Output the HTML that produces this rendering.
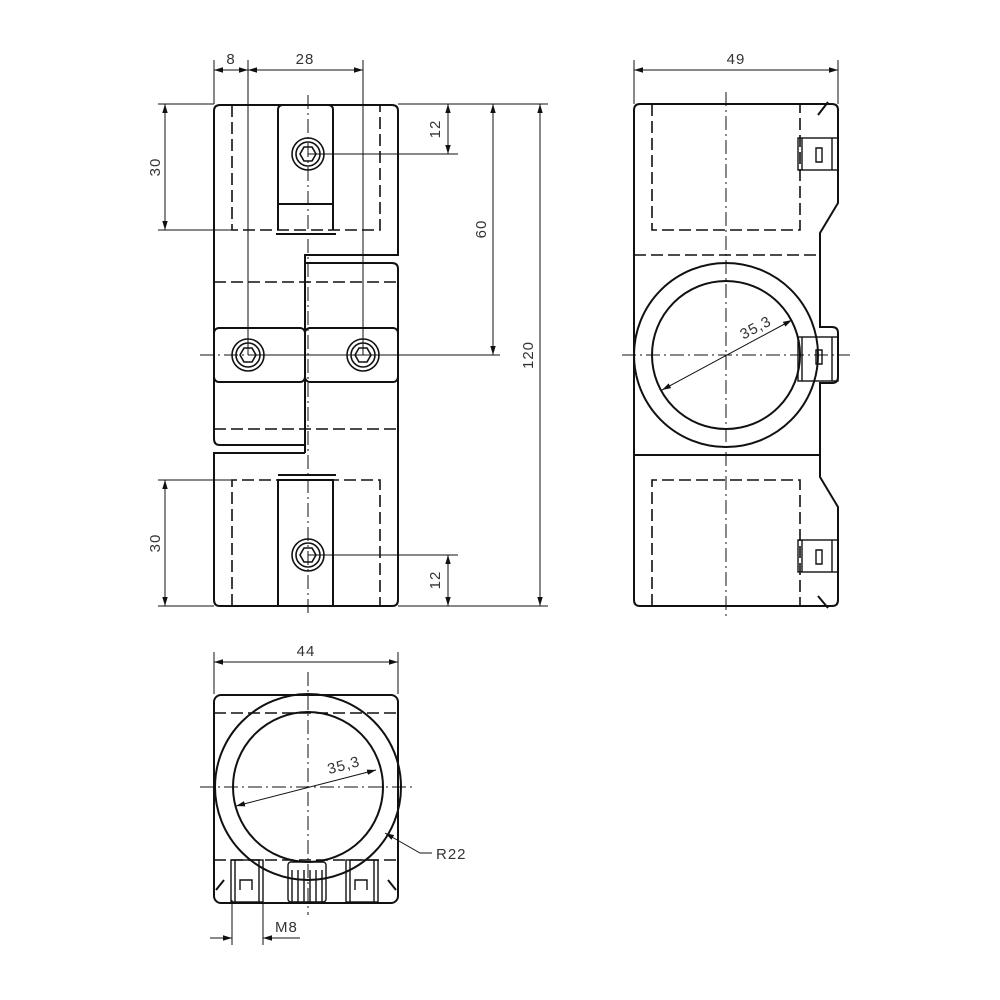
<!DOCTYPE html>
<html><head><meta charset="utf-8"><style>
html,body{margin:0;padding:0;background:#fff}
svg{display:block}
text{font-family:"Liberation Sans",sans-serif;font-size:15px;fill:#333;letter-spacing:1px}
</style></head><body>
<svg width="1000" height="1000" viewBox="0 0 1000 1000" xmlns="http://www.w3.org/2000/svg">
<defs>
<marker id="a" viewBox="0 0 10 10" refX="10" refY="5" markerWidth="9" markerHeight="9" orient="auto-start-reverse" markerUnits="userSpaceOnUse"><path d="M0,2 L10,5 L0,8 z" fill="#111"/></marker>
</defs>
<g fill="none" stroke="#111">
<!-- LEFT VIEW outline -->
<g stroke-width="2">
<path d="M305,445 H220 Q214,445 214,439 V111 Q214,105 220,105 H392 Q398,105 398,111 V255 H305 V453"/>
<path d="M305,263 H392 Q398,263 398,269 V600 Q398,606 392,606 H220 Q214,606 214,600 V453 H305"/>
<path d="M278,230 V110 Q278,105 283,105 H328 Q333,105 333,110 V230 M278,204 H333"/>
<path d="M276,234 H336" />
<path d="M278,606 V480 H333 V606 M278,475 H336" />
<rect x="214" y="328" width="91" height="54" rx="5"/>
<rect x="305" y="328" width="93" height="54" rx="5"/>
</g>
<g stroke-width="1.6" stroke-dasharray="12,5">
<path d="M232,105 V230 H380 V105"/>
<path d="M232,606 V480 H380 V606"/>
<path d="M214,282 H398 M214,429 H398"/>
</g>
<!-- bolts -->
<g stroke-width="1.6">
<circle cx="308" cy="154" r="16"/><circle cx="308" cy="154" r="12"/><path d="M300,154 l4,-7 h8 l4,7 l-4,7 h-8 z"/>
<circle cx="248" cy="355" r="16"/><circle cx="248" cy="355" r="12"/><path d="M240,355 l4,-7 h8 l4,7 l-4,7 h-8 z"/>
<circle cx="363" cy="355" r="16"/><circle cx="363" cy="355" r="12"/><path d="M355,355 l4,-7 h8 l4,7 l-4,7 h-8 z"/>
<circle cx="308" cy="555" r="16"/><circle cx="308" cy="555" r="12"/><path d="M300,555 l4,-7 h8 l4,7 l-4,7 h-8 z"/>
</g>
<!-- center lines -->
<g stroke-width="1" stroke-dasharray="14,4,2,4">
<path d="M308,95 V615 M200,355 H500"/>
<path d="M726,92 V620 M622,355 H850"/>
<path d="M308,672 V915 M200,787 H415"/>
</g>
<!-- left view dims -->
<g stroke-width="1">
<path d="M214,60 V104 M248,60 V355 M363,60 V355"/>
<path d="M158,104 H214 M398,104 H548 M158,230 H232 M308,154 H458 M248,355 H500"/>
<path d="M158,480 H232 M158,606 H214 M398,606 H548 M308,555 H458"/>
<path d="M214,70 H248" marker-start="url(#a)" marker-end="url(#a)"/>
<path d="M248,70 H363" marker-start="url(#a)" marker-end="url(#a)"/>
<path d="M165,104 V230" marker-start="url(#a)" marker-end="url(#a)"/>
<path d="M165,480 V606" marker-start="url(#a)" marker-end="url(#a)"/>
<path d="M448,104 V154" marker-start="url(#a)" marker-end="url(#a)"/>
<path d="M448,555 V606" marker-start="url(#a)" marker-end="url(#a)"/>
<path d="M493,104 V355" marker-start="url(#a)" marker-end="url(#a)"/>
<path d="M540,104 V606" marker-start="url(#a)" marker-end="url(#a)"/>
</g>
<!-- RIGHT VIEW -->
<g stroke-width="2">
<path d="M640,104 H832 Q838,104 838,110 V203 L820,233 V327 H832 Q838,327 838,333 V377 Q838,383 832,383 H820 V477 L838,507 V600 Q838,606 832,606 H640 Q634,606 634,600 V110 Q634,104 640,104 Z"/>
<path d="M634,455 H820"/>
<circle cx="726" cy="355" r="92"/>
<circle cx="726" cy="355" r="74"/>
<path d="M818,115 L828,102 M818,596 L828,608"/>
</g>
<g stroke-width="1.6" stroke-dasharray="12,5">
<path d="M652,104 V230 H800 V104"/>
<path d="M652,606 V480 H800 V606"/>
<path d="M634,255 H820"/>
</g>
<g stroke-width="1.4">
<rect x="798" y="138" width="40" height="32"/><path d="M802,138 V170 M832,138 V170 M816,148 v14 h6 v-14 z"/>
<rect x="798" y="337" width="40" height="44"/><path d="M802,337 V381 M832,337 V381 M816,350 v14 h6 v-14 z"/>
<rect x="798" y="540" width="40" height="32"/><path d="M802,540 V572 M832,540 V572 M816,550 v14 h6 v-14 z"/>
</g>
<g stroke-width="1">
<path d="M634,60 V104 M838,60 V104"/>
<path d="M634,70 H838" marker-start="url(#a)" marker-end="url(#a)"/>
<path d="M662,390 L792,320" marker-start="url(#a)" marker-end="url(#a)"/>
</g>
<!-- BOTTOM VIEW -->
<g stroke-width="2">
<rect x="214" y="695" width="184" height="208" rx="7"/>
<circle cx="308" cy="787" r="93"/>
<circle cx="308" cy="787" r="75"/>
<path d="M216,890 L224,880 M396,890 L388,880"/>
</g>
<g stroke-width="1.6" stroke-dasharray="12,5"><path d="M214,713 H398 M214,860 H398"/></g>
<g stroke-width="1.4">
<rect x="231" y="860" width="32" height="42"/><path d="M235,860 V902 M259,860 V902 M240,890 v-10 h12 v10"/>
<rect x="288" y="862" width="38" height="40" rx="3"/><path d="M292,870 V902 M298,870 V902 M304,870 V902 M310,870 V902 M316,870 V902 M322,870 V902"/>
<rect x="346" y="860" width="32" height="42"/><path d="M350,860 V902 M374,860 V902 M355,890 v-10 h12 v10"/>
</g>
<g stroke-width="1">
<path d="M214,652 V694 M398,652 V694"/>
<path d="M214,662 H398" marker-start="url(#a)" marker-end="url(#a)"/>
<path d="M236,806 L376,770" marker-start="url(#a)" marker-end="url(#a)"/>
<path d="M432,853 H420 L385,833" marker-end="url(#a)"/>
<path d="M232,900 V945 M263,900 V945"/>
<path d="M210,938 H232" marker-end="url(#a)"/>
<path d="M300,938 H263" marker-end="url(#a)"/>
</g>
</g>
<text x="231" y="64" text-anchor="middle">8</text>
<text x="305" y="64" text-anchor="middle">28</text>
<text x="160" y="167" text-anchor="middle" transform="rotate(-90 160 167)">30</text>
<text x="160" y="543" text-anchor="middle" transform="rotate(-90 160 543)">30</text>
<text x="440" y="129" text-anchor="middle" transform="rotate(-90 440 129)">12</text>
<text x="440" y="580" text-anchor="middle" transform="rotate(-90 440 580)">12</text>
<text x="486" y="229" text-anchor="middle" transform="rotate(-90 486 229)">60</text>
<text x="533" y="355" text-anchor="middle" transform="rotate(-90 533 355)">120</text>
<text x="736" y="64" text-anchor="middle">49</text>
<text x="758" y="332" text-anchor="middle" transform="rotate(-28 758 332)">35,3</text>
<text x="306" y="656" text-anchor="middle">44</text>
<text x="345" y="770" text-anchor="middle" transform="rotate(-15 345 770)">35,3</text>
<text x="436" y="859">R22</text>
<text x="275" y="932">M8</text>
</svg>
</body></html>
